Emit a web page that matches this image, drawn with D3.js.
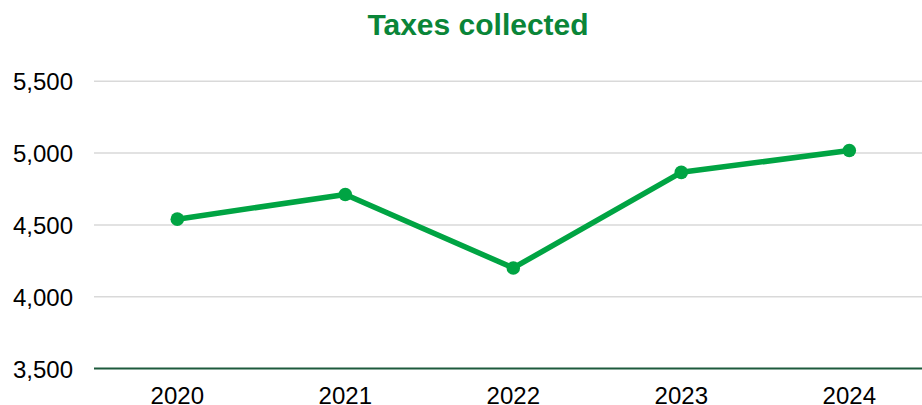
<!DOCTYPE html>
<html>
<head>
<meta charset="utf-8">
<script src="https://cdn.jsdelivr.net/npm/d3@7"></script>
<style>
  html, body { margin: 0; padding: 0; background: #ffffff; }
  svg { display: block; font-family: "Liberation Sans", Arial, sans-serif; }
</style>
</head>
<body>
<svg id="chart" width="922" height="405"></svg>
<script>
// Taxes collected per year
const years = ["2020", "2021", "2022", "2023", "2024"];
const taxes = [4540, 4712, 4200, 4866, 5018];
const yTicks = [3500, 4000, 4500, 5000, 5500];
const title = "Taxes collected";

const svg = d3.select("#chart");

const gridLeft = 94, gridRight = 922;
const x = d3.scaleBand().domain(years).range([93.3, 933.3]);
const y = d3.scaleLinear().domain([3500, 5500]).range([368.5, 81.3]);

// title
svg.append("text")
  .attr("x", 478).attr("y", 35)
  .attr("text-anchor", "middle")
  .attr("font-size", 30).attr("font-weight", "bold")
  .attr("fill", "#0a8538")
  .text(title);

// horizontal gridlines (axis baseline drawn separately)
svg.append("g").selectAll("line")
  .data(yTicks.filter(t => t !== 3500))
  .join("line")
  .attr("x1", gridLeft).attr("x2", gridRight)
  .attr("y1", d => y(d)).attr("y2", d => y(d))
  .attr("stroke", "#d9d9d9").attr("stroke-width", 1.5);

// y axis labels
const yAxis = d3.axisLeft(y).tickValues(yTicks).tickFormat(d3.format(",")).tickSize(0).tickPadding(0);
const gy = svg.append("g").attr("transform", "translate(73,0)").call(yAxis);
gy.select(".domain").remove();
gy.selectAll("text")
  .attr("font-size", 24).attr("fill", "#000").attr("font-family", "Liberation Sans, Arial, sans-serif")
  .attr("dy", "0.36em");

// x axis baseline and labels
svg.append("line")
  .attr("x1", gridLeft).attr("x2", gridRight)
  .attr("y1", y(3500)).attr("y2", y(3500))
  .attr("stroke", "#1d5a3c").attr("stroke-width", 2);

const xAxis = d3.axisBottom(x).tickSize(0).tickPadding(0);
const gx = svg.append("g").call(xAxis);
gx.select(".domain").remove();
gx.selectAll("text")
  .attr("font-size", 24).attr("fill", "#000").attr("font-family", "Liberation Sans, Arial, sans-serif")
  .attr("y", 404).attr("dy", 0);

// series line
const cx = d => x(d) + x.bandwidth() / 2;
const line = d3.line().x((d, i) => cx(years[i])).y(d => y(d));
svg.append("path")
  .datum(taxes)
  .attr("d", line)
  .attr("fill", "none")
  .attr("stroke", "#00a443")
  .attr("stroke-width", 5.5)
  .attr("stroke-linejoin", "round");

svg.append("g").selectAll("circle")
  .data(taxes)
  .join("circle")
  .attr("cx", (d, i) => cx(years[i]))
  .attr("cy", d => y(d))
  .attr("r", 6.8)
  .attr("fill", "#00a443");
</script>
</body>
</html>
